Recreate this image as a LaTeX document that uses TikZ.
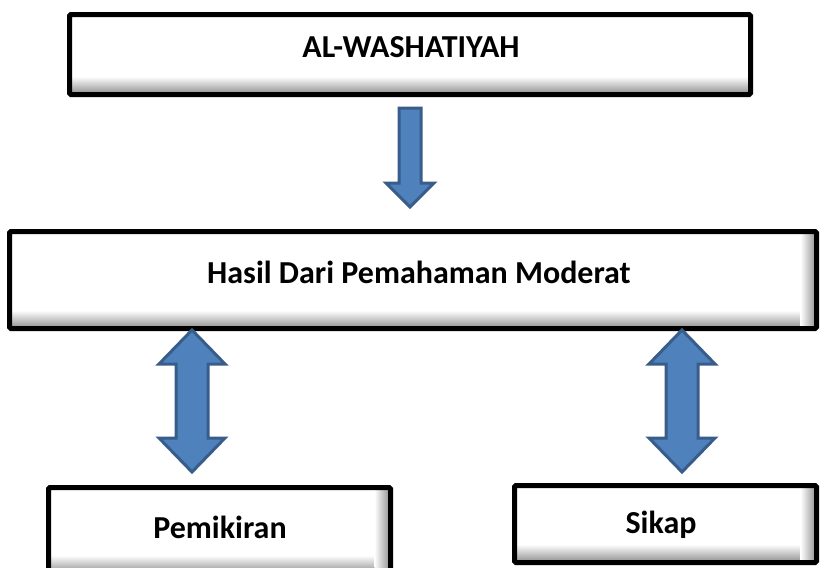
\documentclass[tikz,border=0pt]{standalone}
\usepackage{fontspec}
\setmainfont{Carlito}
\usetikzlibrary{calc}
\definecolor{arrowfill}{HTML}{4F81BD}
\definecolor{arrowline}{HTML}{385D8A}
\definecolor{shadowgray}{HTML}{8C8C8C}
\tikzset{
  boxfill/.style={fill=white, inner sep=0pt, outer sep=0pt},
  boxline/.style={draw=black, line width=5pt, rounded corners=1.5pt},
  lbl/.style={font=\bfseries\fontsize{32}{36}\selectfont, inner sep=0pt, anchor=base},
  blockarrow/.style={fill=arrowfill, draw=arrowline, line width=3pt, line join=miter}
}
% #1 name, #2 centre, #3 width, #4 height, #5 right shadow (1/0)
\newcommand{\shadowbox}[5]{%
  \node[boxfill, minimum width=#3, minimum height=#4] (#1) at (#2) {};
  \shade[top color=white, bottom color=shadowgray]
    ([yshift=18pt]#1.south west) rectangle (#1.south east);
  \ifnum#5=1
    \shade[left color=white, right color=shadowgray]
      ([xshift=-16pt]#1.north east) rectangle (#1.south east);
  \fi
  \draw[boxline] (#1.south west) rectangle (#1.north east);
}
\begin{document}
\begin{tikzpicture}[x=1pt, y=-1pt]
\useasboundingbox (0,0) rectangle (820,568);
% boxes (border-centre coordinates)
\shadowbox{top}{410,54.5}{681pt}{80pt}{0}
\shadowbox{mid}{413,280}{807pt}{97pt}{1}
\shadowbox{pem}{219.5,530.5}{342pt}{86pt}{1}
\shadowbox{sik}{665.5,524}{302pt}{77pt}{1}
% labels
\node[lbl] (ttop) at (411,57) {AL-WASHATIYAH};
\node[lbl] (tmid) at (419,283) {Hasil Dari Pemahaman Moderat};
\node[lbl] (tpem) at (220,538) {Pemikiran};
\node[lbl] (tsik) at (661,533) {Sikap};
% down arrow
\coordinate (d) at (410,108);
\draw[blockarrow] ($(d)+(-11,0)$) -- ($(d)+(11,0)$) -- ($(d)+(11,75)$) -- ($(d)+(24,75)$)
  -- ($(d)+(0,99)$) -- ($(d)+(-24,75)$) -- ($(d)+(-11,75)$) -- cycle;
% double arrows
\foreach \cx/\nm in {192/l, 682/r}{
  \coordinate (\nm) at (\cx,330);
  \draw[blockarrow] (\nm) -- ($(\nm)+(33,34)$) -- ($(\nm)+(16,34)$) -- ($(\nm)+(16,108)$)
    -- ($(\nm)+(33,108)$) -- ($(\nm)+(0,142)$) -- ($(\nm)+(-33,108)$) -- ($(\nm)+(-16,108)$)
    -- ($(\nm)+(-16,34)$) -- ($(\nm)+(-33,34)$) -- cycle;
}
\end{tikzpicture}
\end{document}
